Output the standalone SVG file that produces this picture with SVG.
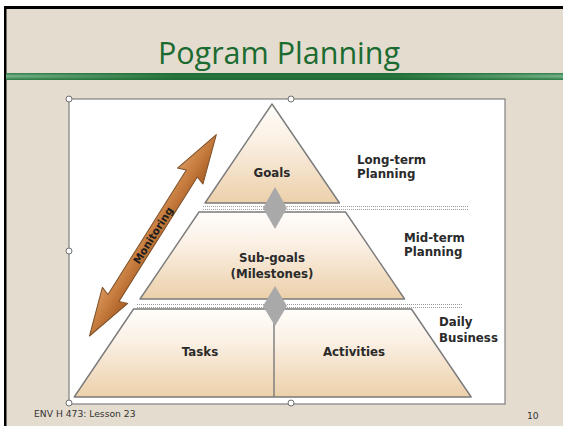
<svg xmlns="http://www.w3.org/2000/svg" width="563" height="426" viewBox="0 0 563 426">
<style>
.lbl{font-family:"DejaVu Sans",Verdana,sans-serif;font-weight:bold;font-size:11.8px;fill:#2a2a2a}
.mid{text-anchor:middle}
.lvl{fill:url(#tan);stroke:#7a7a7a;stroke-width:1.4;stroke-linejoin:round}
.dot{stroke:#9c9c9c;stroke-width:1;stroke-dasharray:1 1;fill:none}
.dia{fill:#a9a9a9}
.hdl{fill:#fff;stroke:#6f6f6f;stroke-width:1}
.foot{font-family:"DejaVu Sans",Verdana,sans-serif;font-size:9.2px;fill:#333}
</style>
<defs>
<linearGradient id="tan" x1="0" y1="0" x2="0" y2="1">
<stop offset="0" stop-color="#fffdfa"/>
<stop offset="0.35" stop-color="#fbf1e6"/>
<stop offset="1" stop-color="#ecd0aa"/>
</linearGradient>
<linearGradient id="bar" x1="0" y1="0" x2="0" y2="1">
<stop offset="0" stop-color="#2f7f49"/>
<stop offset="0.45" stop-color="#7cb58d"/>
<stop offset="1" stop-color="#2a7a44"/>
</linearGradient>
<linearGradient id="barmid" x1="0" y1="0" x2="1" y2="0">
<stop offset="0" stop-color="#1a6a31" stop-opacity="0"/>
<stop offset="0.3" stop-color="#1a6a31" stop-opacity="0.85"/>
<stop offset="0.7" stop-color="#1a6a31" stop-opacity="0.85"/>
<stop offset="1" stop-color="#1a6a31" stop-opacity="0"/>
</linearGradient>
<linearGradient id="brown" x1="0" y1="0" x2="0" y2="1">
<stop offset="0" stop-color="#d8955a"/>
<stop offset="0.5" stop-color="#c47a3c"/>
<stop offset="1" stop-color="#a85e25"/>
</linearGradient>
</defs>

<g id="slide">
<rect x="0" y="0" width="563" height="426" fill="#ffffff"/>
<rect x="4" y="6" width="559" height="420" fill="#e4dccf"/>
<rect x="4" y="6" width="559" height="3" fill="#000"/>
<rect x="4" y="6" width="2.5" height="420" fill="#000"/>
<rect x="6" y="73" width="557" height="7" fill="url(#bar)"/>
<rect x="6" y="73" width="557" height="7" fill="url(#barmid)"/>
<text x="279" y="64" text-anchor="middle" font-family="'Open Sans','Noto Sans',sans-serif" font-size="30.5" fill="#1b6b31">Pogram Planning</text>
<text class="foot" x="34" y="417">ENV H 473: Lesson 23</text>
<text class="foot" x="527" y="419">10</text>
</g>

<g id="frame">
<rect x="69" y="99" width="436" height="305" fill="#fff" stroke="#808080" stroke-width="1.2"/>
<circle class="hdl" cx="69" cy="99" r="3"/>
<circle class="hdl" cx="291" cy="99" r="3"/>
<circle class="hdl" cx="69" cy="251" r="3"/>
<circle class="hdl" cx="69" cy="403" r="3"/>
<circle class="hdl" cx="291" cy="403" r="3"/>
</g>

<g id="connectors">
<line class="dot" x1="203" y1="206.5" x2="468" y2="206.5"/>
<line class="dot" x1="203" y1="209.5" x2="468" y2="209.5"/>
<line class="dot" x1="137" y1="304.5" x2="463" y2="304.5"/>
<line class="dot" x1="137" y1="307.5" x2="463" y2="307.5"/>
</g>

<g id="goals">
<polygon class="lvl" points="272,104 339.5,203 205,203"/>
<text class="lbl mid" x="272" y="177">Goals</text>
</g>

<g id="subgoals">
<polygon class="lvl" points="199,212 345.5,212 404.6,299 140,299"/>
<text class="lbl mid" x="272" y="262">Sub-goals</text>
<text class="lbl mid" x="272" y="278">(Milestones)</text>
</g>

<g id="daily">
<polygon class="lvl" points="133.6,309 411.4,309 471.2,397 74.2,397"/>
<line x1="274" y1="309" x2="274" y2="397" stroke="#7a7a7a" stroke-width="1.4"/>
<text class="lbl mid" x="200" y="356">Tasks</text>
<text class="lbl mid" x="354" y="356">Activities</text>
</g>

<g id="diamonds">
<polygon class="dia" points="275,187 287,208 275,229 263,208"/>
<polygon class="dia" points="275,286 287,306 275,326 263,306"/>
</g>

<g id="levels">
<text class="lbl" x="357" y="164">Long-term</text>
<text class="lbl" x="357" y="178">Planning</text>
<text class="lbl" x="404" y="242">Mid-term</text>
<text class="lbl" x="404" y="256">Planning</text>
<text class="lbl" x="439" y="326">Daily</text>
<text class="lbl" x="439" y="342">Business</text>
</g>

<g id="monitoring" transform="translate(89.5,336) rotate(-57.8)">
<polygon points="0,0 48,-15 45,-6.5 192,-6.5 189,-15 238,0 189,15 192,6.5 45,6.5 48,15" fill="url(#brown)" stroke="#7d4f28" stroke-width="1" stroke-linejoin="round"/>
<text class="lbl mid" x="119" y="3.8" style="font-size:10.5px;fill:#1e1e1e">Monitoring</text>
</g>
</svg>
